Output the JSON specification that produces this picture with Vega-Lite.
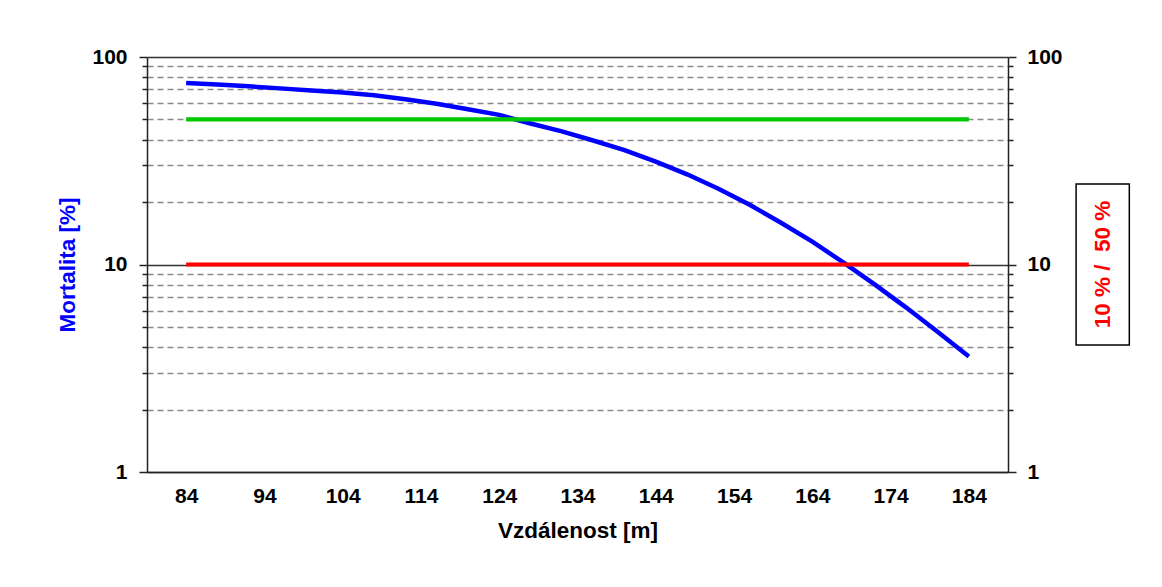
{
  "$schema": "https://vega.github.io/schema/vega-lite/v6.json",
  "autosize": {"type": "none"},
  "width": 861,
  "height": 415,
  "padding": {"left": 147, "top": 57, "right": 154, "bottom": 115},
  "background": "white",
  "config": {"view": {"stroke": null}, "font": "Liberation Sans"},
  "datasets": {
    "krivka": [
      {"vzdalenost": 84, "mortalita": 75.0},
      {"vzdalenost": 88, "mortalita": 73.8},
      {"vzdalenost": 92, "mortalita": 72.2},
      {"vzdalenost": 96, "mortalita": 70.6},
      {"vzdalenost": 100, "mortalita": 69.0},
      {"vzdalenost": 104, "mortalita": 67.5},
      {"vzdalenost": 108, "mortalita": 65.4},
      {"vzdalenost": 112, "mortalita": 62.6},
      {"vzdalenost": 116, "mortalita": 59.5},
      {"vzdalenost": 120, "mortalita": 56.0},
      {"vzdalenost": 124, "mortalita": 52.6},
      {"vzdalenost": 128, "mortalita": 47.8},
      {"vzdalenost": 132, "mortalita": 43.8},
      {"vzdalenost": 136, "mortalita": 39.6},
      {"vzdalenost": 140, "mortalita": 35.6},
      {"vzdalenost": 144, "mortalita": 31.3},
      {"vzdalenost": 148, "mortalita": 27.2},
      {"vzdalenost": 152, "mortalita": 23.2},
      {"vzdalenost": 156, "mortalita": 19.4},
      {"vzdalenost": 160, "mortalita": 15.9},
      {"vzdalenost": 164, "mortalita": 12.9},
      {"vzdalenost": 168, "mortalita": 10.2},
      {"vzdalenost": 172, "mortalita": 8.0},
      {"vzdalenost": 176, "mortalita": 6.2},
      {"vzdalenost": 180, "mortalita": 4.74},
      {"vzdalenost": 184, "mortalita": 3.6}
    ],
    "prahy": [
      {"prah": "10 %", "hodnota": 10, "od": 84, "do": 184},
      {"prah": "50 %", "hodnota": 50, "od": 84, "do": 184}
    ],
    "popisek": [
      {"text": "10 % /\u00a0 50 %"}
    ]
  },
  "layer": [
    {
      "data": {"name": "krivka"},
      "mark": {"type": "line", "color": "#0000ff", "strokeWidth": 4.5},
      "encoding": {
        "x": {
          "field": "vzdalenost",
          "type": "quantitative",
          "title": "Vzdálenost [m]",
          "scale": {"domain": [79, 189], "nice": false, "zero": false},
          "axis": {
            "title": "Vzdálenost [m]",
            "values": [84, 94, 104, 114, 124, 134, 144, 154, 164, 174, 184],
            "ticks": false,
            "grid": false,
            "domain": true,
            "domainColor": "#222222",
            "domainWidth": 1.5,
            "labelPadding": 13,
            "labelFontSize": 21,
            "labelFontWeight": "bold",
            "labelColor": "#000000",
            "labelFont": "Liberation Sans",
            "labelOverlap": false,
            "titleFontSize": 22.5,
            "titleFontWeight": "bold",
            "titleColor": "#000000",
            "titleFont": "Liberation Sans",
            "titlePadding": 13
          }
        },
        "y": {
          "field": "mortalita",
          "type": "quantitative",
          "scale": {"type": "log", "domain": [1, 100], "nice": false},
          "axis": {
            "orient": "left",
            "title": "Mortalita [%]",
            "values": [1, 2, 3, 4, 5, 6, 7, 8, 9, 10, 20, 30, 40, 50, 60, 70, 80, 90, 100],
            "labelExpr": "datum.value === 1 ? '1' : datum.value === 10 ? '10' : datum.value === 100 ? '100' : ''",
            "labelOverlap": false,
            "labelPadding": 12,
            "labelFontSize": 21,
            "labelFontWeight": "bold",
            "labelColor": "#000000",
            "labelFont": "Liberation Sans",
            "tickSize": 8,
            "tickColor": "#222222",
            "tickWidth": 1.5,
            "tickDash": {"condition": {"test": "datum.value === 1 || datum.value === 10 || datum.value === 100", "value": []}, "value": [5, 10]},
            "domain": true,
            "domainColor": "#222222",
            "domainWidth": 1.5,
            "grid": true,
            "gridColor": {"condition": {"test": "datum.value === 1 || datum.value === 10 || datum.value === 100", "value": "#333333"}, "value": "#8a8a8a"},
            "gridDash": {"condition": {"test": "datum.value === 1 || datum.value === 10 || datum.value === 100", "value": []}, "value": [6, 4]},
            "gridWidth": 1.5,
            "titleFontSize": 22.5,
            "titleFontWeight": "bold",
            "titleColor": "#0000ff",
            "titleFont": "Liberation Sans",
            "titlePadding": 12
          }
        }
      }
    },
    {
      "data": {"name": "prahy"},
      "mark": {"type": "rule", "strokeWidth": 4.2},
      "encoding": {
        "x": {"field": "od", "type": "quantitative", "title": "Vzdálenost [m]"},
        "x2": {"field": "do"},
        "y": {
          "field": "hodnota",
          "type": "quantitative",
          "axis": {
            "orient": "right",
            "title": null,
            "values": [1, 2, 3, 4, 5, 6, 7, 8, 9, 10, 20, 30, 40, 50, 60, 70, 80, 90, 100],
            "labelExpr": "datum.value === 1 ? '1' : datum.value === 10 ? '10' : datum.value === 100 ? '100' : ''",
            "labelOverlap": false,
            "labelPadding": 11,
            "labelFontSize": 21,
            "labelFontWeight": "bold",
            "labelColor": "#000000",
            "labelFont": "Liberation Sans",
            "tickSize": 8,
            "tickColor": "#222222",
            "tickWidth": 1.5,
            "tickDash": {"condition": {"test": "datum.value === 1 || datum.value === 10 || datum.value === 100", "value": []}, "value": [5, 10]},
            "domain": true,
            "domainColor": "#222222",
            "domainWidth": 1.5,
            "grid": false
          }
        },
        "color": {
          "field": "prah",
          "type": "nominal",
          "scale": {"domain": ["10 %", "50 %"], "range": ["#ff0000", "#00c800"]},
          "legend": null
        }
      }
    },
    {
      "data": {"name": "popisek"},
      "mark": {"type": "rect", "filled": false, "color": "#000000", "strokeWidth": 1.5},
      "encoding": {
        "x": {"datum": 197.7, "type": "quantitative", "title": "Vzdálenost [m]"},
        "x2": {"datum": 204.5},
        "y": {"datum": 24.4, "type": "quantitative", "axis": null},
        "y2": {"datum": 4.09}
      }
    },
    {
      "data": {"name": "popisek"},
      "mark": {
        "type": "text",
        "angle": 270,
        "color": "#ff0000",
        "font": "Liberation Sans",
        "fontSize": 22.5,
        "fontWeight": "bold",
        "align": "center",
        "baseline": "middle"
      },
      "encoding": {
        "x": {"datum": 201.1, "type": "quantitative", "title": "Vzdálenost [m]"},
        "y": {"datum": 10, "type": "quantitative", "axis": null},
        "text": {"field": "text", "type": "nominal"}
      }
    }
  ],
  "resolve": {"axis": {"y": "independent"}}
}
